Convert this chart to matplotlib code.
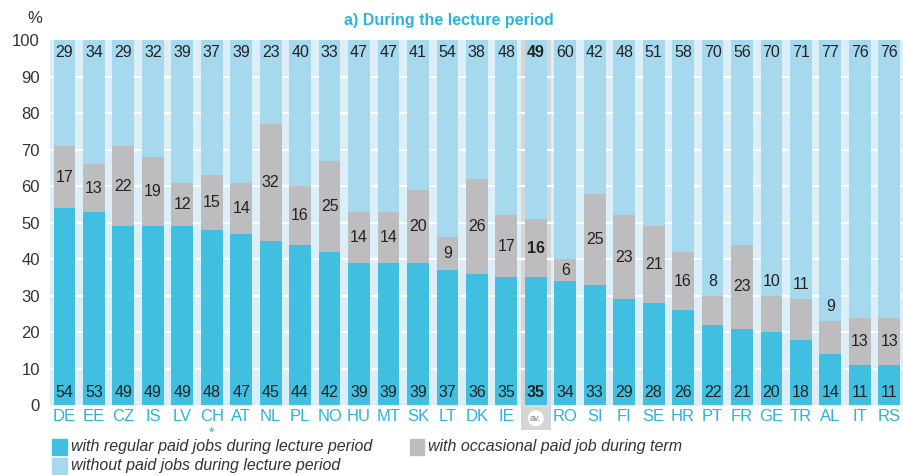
import matplotlib.pyplot as plt
import matplotlib.patches as mpatches
import numpy as np

countries = ['DE', 'EE', 'CZ', 'IS', 'LV', 'CH', 'AT', 'NL', 'PL', 'NO', 'HU', 'MT', 'SK', 'LT',
             'DK', 'IE', 'av.', 'RO', 'SI', 'FI', 'SE', 'HR', 'PT', 'FR', 'GE', 'TR', 'AL', 'IT', 'RS']
regular = [54, 53, 49, 49, 49, 48, 47, 45, 44, 42, 39, 39, 39, 37,
           36, 35, 35, 34, 33, 29, 28, 26, 22, 21, 20, 18, 14, 11, 11]
occasional = [17, 13, 22, 19, 12, 15, 14, 32, 16, 25, 14, 14, 20, 9,
              26, 17, 16, 6, 25, 23, 21, 16, 8, 23, 10, 11, 9, 13, 13]
without = [29, 34, 29, 32, 39, 37, 39, 23, 40, 33, 47, 47, 41, 54,
           38, 48, 49, 60, 42, 48, 51, 58, 70, 56, 70, 71, 77, 76, 76]

c_reg = '#41bfe1'
c_occ = '#bdbdbf'
c_wo = '#a6d9ee'
c_bg = '#dceef7'
c_blue = '#2bb3e0'
c_txt = '#333333'

plt.rcParams['font.family'] = ['Liberation Sans', 'DejaVu Sans']

fig = plt.figure(figsize=(9.04, 4.75), dpi=100)
ax = fig.add_axes([0.055, 0.147, 0.945, 0.768])
ax.set_facecolor(c_bg)

x = np.arange(len(countries))
reg = np.array(regular)
occ = np.array(occasional)
wo = np.array(without)
avi = countries.index('av.')

# grey highlight behind the average column
ax.add_patch(mpatches.Rectangle((avi - 0.5, -6.9), 1.0, 106.9, color='#d6d6d6',
                                zorder=0.5, clip_on=False, lw=0))

for yv in range(10, 100, 10):
    ax.axhline(yv, color='white', lw=1.6, zorder=0.8)

w = 0.74
ax.bar(x, reg, w, color=c_reg, zorder=2)
ax.bar(x, occ, w, bottom=reg, color=c_occ, zorder=2)
ax.bar(x, wo, w, bottom=reg + occ, color=c_wo, zorder=2)

for i in range(len(countries)):
    fw = 'bold' if i == avi else 'normal'
    kw = dict(ha='center', va='center', fontsize=11.5, color='#222222', fontweight=fw, zorder=3)
    ax.text(x[i], 3.6, str(regular[i]), **kw)
    ax.text(x[i], 96.6, str(without[i]), **kw)
    if occ[i] < 12 and reg[i] < 25:
        yy = reg[i] + occ[i] + 4
    else:
        yy = reg[i] + occ[i] / 2
    ax.text(x[i], yy, str(occasional[i]), **kw)

ax.set_xlim(-0.5, len(countries) - 0.5)
ax.set_ylim(0, 100)
ax.set_yticks(range(0, 101, 10))
ax.tick_params(axis='y', length=0, labelsize=12, labelcolor=c_txt, pad=7)
ax.set_xticks(x)
ax.set_xticklabels([c if c != 'av.' else '' for c in countries])
ax.tick_params(axis='x', length=0, labelsize=12, labelcolor=c_blue, pad=3)
for s in ax.spines.values():
    s.set_visible(False)

ax.text(avi, -3.6, 'av.', ha='center', va='center', fontsize=6.5, color='#777777',
        bbox=dict(boxstyle='circle,pad=0.25', fc='white', ec='none'), clip_on=False, zorder=3)
ax.text(countries.index('CH'), -7.6, '*', ha='center', va='center', fontsize=10,
        color=c_blue, clip_on=False)

fig.text(0.497, 0.957, 'a) During the lecture period', ha='center', va='center',
         fontsize=11.5, fontweight='bold', color=c_blue)
fig.text(0.038, 0.962, '%', ha='center', va='center', fontsize=12, color=c_txt)

# legend
legend_items = [('with regular paid jobs during lecture period', c_reg, 0.058, 0.059),
                ('with occasional paid job during term', c_occ, 0.453, 0.059),
                ('without paid jobs during lecture period', c_wo, 0.058, 0.019)]
for label, col, lx, ly in legend_items:
    fig.patches.append(mpatches.Rectangle((lx, ly - 0.016), 0.016, 0.032, color=col,
                                          transform=fig.transFigure, figure=fig))
    fig.text(lx + 0.021, ly, label, ha='left', va='center', fontsize=11.5,
             style='italic', color=c_txt)

fig.savefig('out.png', dpi=100)
